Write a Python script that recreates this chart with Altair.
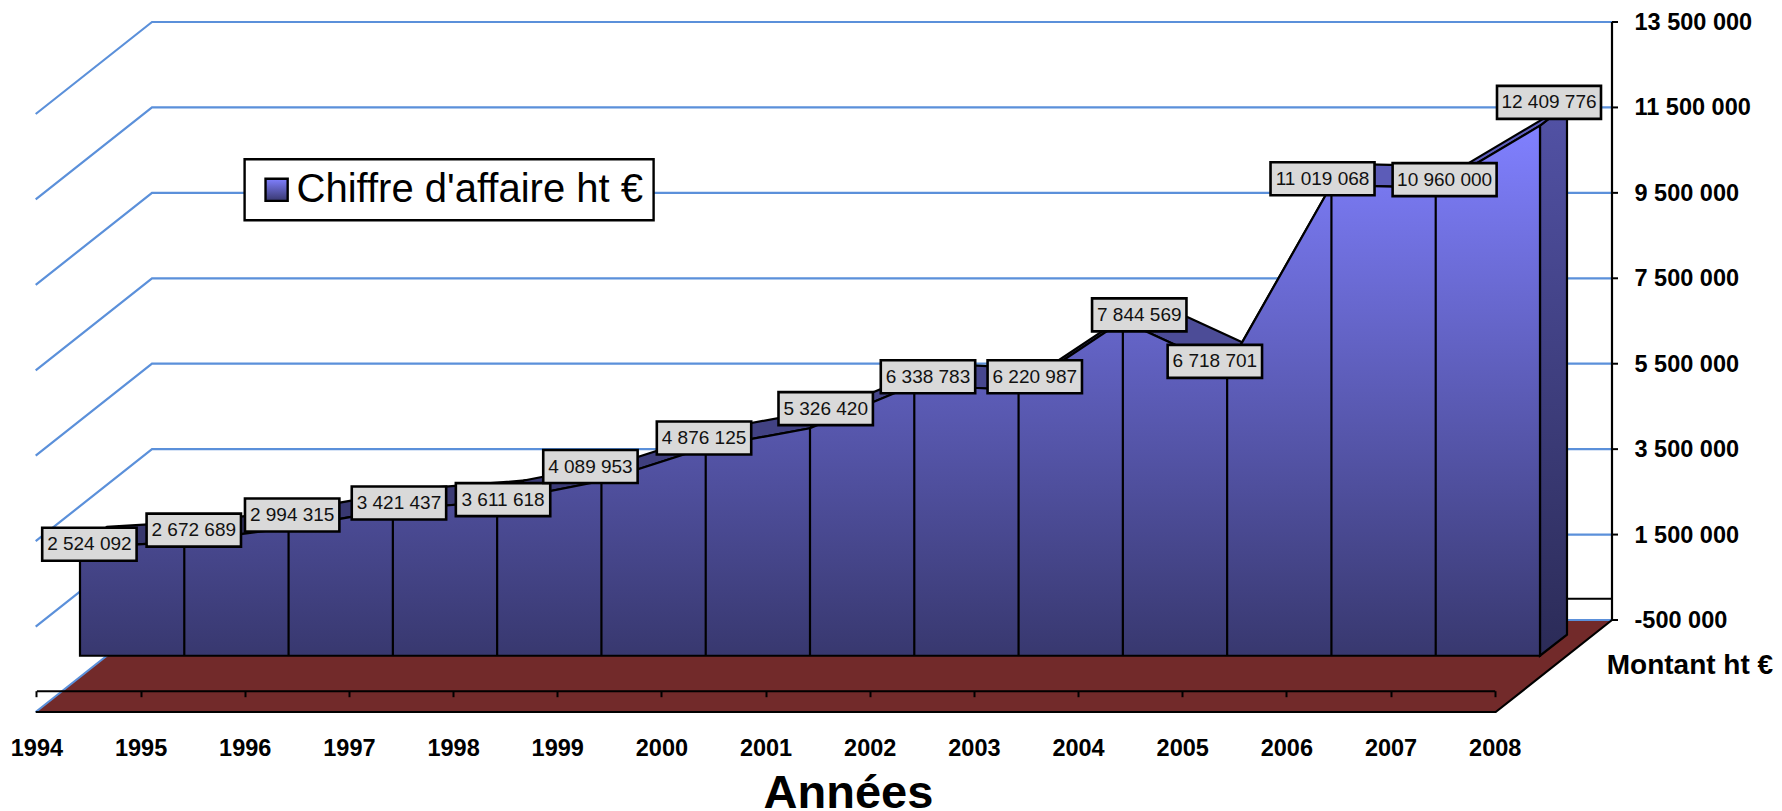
import altair as alt
import pandas as pd

YEARS = list(range(1994, 2009))
VALUES = [2524092, 2672689, 2994315, 3421437, 3611618, 4089953, 4876125, 5326420,
          6338783, 6220987, 7844569, 6718701, 11019068, 10960000, 12409776]
Y_TICKS = [-500000, 1500000, 3500000, 5500000, 7500000, 9500000, 11500000, 13500000]
SERIES = "Chiffre d'affaire ht €"

# hand-placed data label boxes, px from the point they annotate
LABEL_DX = [9.4, 9.5, 3.6, 6.1, 5.9, -11, -1.7, 15.7, 13.7, 16.2, 16.4, -12.3, -8.9, 8.9, 9]
LABEL_DY = [-3.7, -11.5, -12.8, -6.6, -1.9, -14.5, -9.4, -19.6, -8.2, -13.3, -5.8, -7.4, -6.3, -8, -23.3]

PLOT_W, PLOT_H = 1460, 598
X_DOM = [1994, 2008]
Y_DOM = [-500000, 13500000]
PXY = PLOT_W / (X_DOM[1] - X_DOM[0])
PXE = PLOT_H / (Y_DOM[1] - Y_DOM[0])

def px(year, d=0.0):      # year on a plane shifted d px sideways
    return year + d / PXY
def py(v, d=0.0):         # euro value on a plane shifted d px downward
    return v - d / PXE

FRONT = (-72.0, 57.1)
BACK = (-45.0, 36.1)
FLOOR = (-116.3, 92.0)

xs = alt.Scale(domain=X_DOM, nice=False, zero=False)
ys = alt.Scale(domain=Y_DOM, nice=False, zero=False)
X = alt.X("x:Q", scale=xs, axis=None)
Y = alt.Y("y:Q", scale=ys, axis=None)

def grad(top, bottom):
    return alt.Gradient(gradient="linear", x1=0, x2=0, y1=0, y2=1,
                        stops=[alt.GradientStop(color=top, offset=0),
                               alt.GradientStop(color=bottom, offset=1)])

def path(points, **mark):
    df = pd.DataFrame(points, columns=["x", "y"])
    df["o"] = range(len(df))
    return alt.Chart(df).mark_line(**mark).encode(x=X, y=Y, order="o:Q")

def mix(t, a=(128, 128, 255), b=(56, 56, 111), f=1.0):
    return "#%02x%02x%02x" % tuple(int(round((a[i] + (b[i] - a[i]) * t) * f)) for i in range(3))

def gridline(v):
    return path([(px(1994, FLOOR[0]), py(v, FLOOR[1])), (1994, v), (2008, v)],
                color="#5b90da", strokeWidth=2.2)

layers = []

# wall gridlines with their depth returns
for v in Y_TICKS[1:]:
    layers.append(gridline(v))
# zero line on the wall
layers.append(path([(2000, 0), (2008, 0)], color="black", strokeWidth=2))

# floor
fl = [(px(1994, FLOOR[0]), py(-500000, FLOOR[1])), (px(2008, FLOOR[0]), py(-500000, FLOOR[1])),
      (2008, -500000), (1994, -500000), (px(1994, FLOOR[0]), py(-500000, FLOOR[1]))]
layers.append(path(fl, fill="#722a2a", stroke="#722a2a", strokeWidth=0))
layers.append(gridline(Y_TICKS[0]))
layers.append(path(fl[:3], color="black", strokeWidth=2.2))

# value axis on the right of the wall
tick_df = pd.DataFrame({"x": [px(2008)] * len(Y_TICKS), "x2": [px(2008, 6)] * len(Y_TICKS), "y": Y_TICKS,
                        "lx": [px(2008, 22.5)] * len(Y_TICKS),
                        "t": [f"{v:,}".replace(",", " ") for v in Y_TICKS]})
layers.append(path([(2008, Y_TICKS[0]), (2008, Y_TICKS[-1])], color="black", strokeWidth=2.2))
layers.append(alt.Chart(tick_df).mark_rule(color="black", strokeWidth=2).encode(x=X, x2="x2:Q", y=Y))
layers.append(alt.Chart(tick_df).mark_text(font="Liberation Sans", fontWeight="bold", fontSize=23.5,
                                           color="black", align="left", baseline="middle", dy=1)
              .encode(x=alt.X("lx:Q", scale=xs, axis=None), y=Y, text="t:N"))
title_df = pd.DataFrame({"x": [px(2008, -5.3)], "y": [py(-500000, 46)], "t": ["Montant ht €"]})
layers.append(alt.Chart(title_df).mark_text(font="Liberation Sans", fontWeight="bold", fontSize=28,
                                            color="black", align="left", baseline="middle")
              .encode(x=X, y=Y, text="t:N"))

# side face
side = [(px(2008, FRONT[0]), py(VALUES[-1], FRONT[1])), (px(2008, BACK[0]), py(VALUES[-1], BACK[1])),
        (px(2008, BACK[0]), py(0, BACK[1])), (px(2008, FRONT[0]), py(0, FRONT[1])),
        (px(2008, FRONT[0]), py(VALUES[-1], FRONT[1]))]
layers.append(path(side, fill=grad("#5252a6", "#2b2b57"), stroke="black", strokeWidth=2.2))

# top faces
for i in range(len(YEARS) - 1):
    a, b = YEARS[i], YEARS[i + 1]
    va, vb = VALUES[i], VALUES[i + 1]
    t = 1 - ((va + vb) / 2) / max(VALUES)
    layers.append(path([(px(a, FRONT[0]), py(va, FRONT[1])), (px(b, FRONT[0]), py(vb, FRONT[1])),
                        (px(b, BACK[0]), py(vb, BACK[1])), (px(a, BACK[0]), py(va, BACK[1])),
                        (px(a, FRONT[0]), py(va, FRONT[1]))],
                       fill=mix(t, f=0.77), stroke="black", strokeWidth=2.2))

# front face
front = pd.DataFrame({"x": [px(y, FRONT[0]) for y in YEARS],
                      "y": [py(v, FRONT[1]) for v in VALUES],
                      "y0": [py(0, FRONT[1])] * len(YEARS)})
layers.append(alt.Chart(front).mark_area(fill=grad("#8080ff", "#38386f"), stroke="black", strokeWidth=2.2)
              .encode(x=X, y=Y, y2="y0:Q"))
layers.append(alt.Chart(front.iloc[1:-1]).mark_rule(color="black", strokeWidth=2.2)
              .encode(x=X, y=Y, y2="y0:Q"))

# data labels
W7, W8, BH = 94.4, 104.0, 33.0
rows = []
for yr, v, dx, dy in zip(YEARS, VALUES, LABEL_DX, LABEL_DY):
    w = W8 if v >= 10000000 else W7
    cx = px(yr, FRONT[0] + dx)
    cy = py(v, FRONT[1] + dy)
    rows.append({"x": cx, "y": cy, "x1": cx - w / 2 / PXY, "x2": cx + w / 2 / PXY,
                 "y1": cy - BH / 2 / PXE, "y2": cy + BH / 2 / PXE,
                 "t": f"{v:,}".replace(",", " ")})
lab = pd.DataFrame(rows)
layers.append(alt.Chart(lab).mark_rect(fill="#d9d9d9", stroke="black", strokeWidth=2.6)
              .encode(x=alt.X("x1:Q", scale=xs, axis=None), x2="x2:Q",
                      y=alt.Y("y1:Q", scale=ys, axis=None), y2="y2:Q"))
layers.append(alt.Chart(lab).mark_text(font="Liberation Sans", fontSize=19, color="#111111",
                                       baseline="middle", align="center")
              .encode(x=X, y=Y, text="t:N"))

inner = alt.layer(*layers)

# x axis carrier, on the front edge of the floor
axis_df = pd.DataFrame({"year": YEARS, "y": [0] * len(YEARS)})
axis_layer = alt.Chart(axis_df).mark_point(opacity=0).encode(
    x=alt.X("year:Q",
            scale=alt.Scale(domain=X_DOM, nice=False, zero=False,
                            range=[FLOOR[0] + 0.7, PLOT_W + FLOOR[0] - 1.0]),
            axis=alt.Axis(values=YEARS, format="d", orient="bottom", offset=70.7, zindex=1, grid=False,
                          domainColor="black", domainWidth=2, tickColor="black", tickWidth=2, tickSize=6,
                          labelFont="Liberation Sans", labelFontWeight="bold", labelFontSize=23.5,
                          labelColor="black", labelPadding=40, labelOverlap=False, labelFlush=False,
                          title="Années", titleFont="Liberation Sans", titleFontWeight="bold",
                          titleFontSize=47, titleColor="black", titleX=696, titleY=117,
                          titleAlign="center", titleBaseline="alphabetic")),
    y=Y,
)

legend_df = pd.DataFrame({"x": [1996], "y": [9500000], "s": [SERIES]})
legend_layer = alt.Chart(legend_df).mark_square(opacity=0, size=10).encode(
    x=X, y=Y,
    fill=alt.Fill("s:N",
                  scale=alt.Scale(range=[alt.expr(
                      "{gradient:'linear',x1:0,y1:0,x2:0,y2:1,"
                      "stops:[{offset:0,color:'#8080ff'},{offset:1,color:'#38386f'}]}")]),
                  legend=alt.Legend(title=None, orient="none", legendX=92.6, legendY=137.3,
                                    fillColor="white", strokeColor="black", padding=10.5,
                                    symbolType="square", symbolSize=490, symbolOpacity=1,
                                    symbolStrokeColor="black", symbolStrokeWidth=2.4, symbolOffset=1.5,
                                    labelFont="Liberation Sans", labelFontSize=40, labelColor="black",
                                    labelOffset=0, labelLimit=500)))

chart = (alt.layer(inner, axis_layer, legend_layer)
         .resolve_scale(x="independent")
         .properties(width=PLOT_W, height=PLOT_H,
                     autosize=alt.AutoSizeParams(type="none"),
                     padding={"left": 144, "top": 14, "right": 162, "bottom": 190})
         .configure_view(stroke=None)
         .configure_legend(strokeWidth=2.4))

chart.save("out.html", embed_options={"renderer": "svg", "actions": False})
